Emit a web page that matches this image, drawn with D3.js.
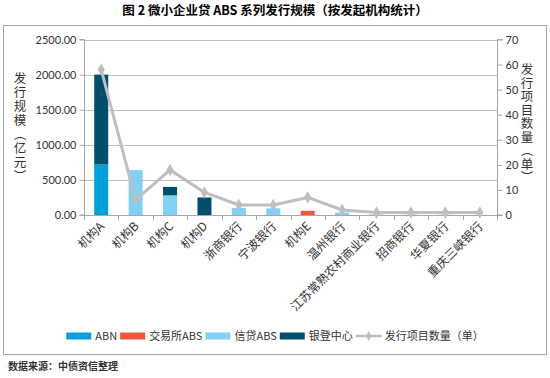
<!DOCTYPE html>
<html><head><meta charset="utf-8">
<script src="https://cdn.jsdelivr.net/npm/d3@7/dist/d3.min.js"></script>
<style>
body{margin:0;background:#fff;}
svg{display:block;}
.vt{writing-mode:vertical-rl;text-orientation:upright;font-feature-settings:"vert" 0,"vrt2" 0;}
</style></head>
<body><svg id="c" width="550" height="378"></svg>
<script>
const categories = ["机构A","机构B","机构C","机构D","浙商银行","宁波银行","机构E","温州银行","江苏常熟农村商业银行","招商银行","华夏银行","重庆三峡银行"];
const abn      = [720, 0, 0, 0, 0, 0, 0, 0, 0, 0, 0, 0];
const exchAbs  = [0, 0, 0, 0, 0, 0, 60, 0, 0, 0, 0, 0];
const creditAbs= [0, 640, 280, 0, 100, 95, 0, 35, 8, 5, 5, 2];
const yindeng  = [1280, 0, 120, 250, 0, 0, 0, 0, 0, 0, 0, 0];
const counts   = [58, 6, 18, 9, 4, 4, 7, 2, 1, 1, 1, 1];
const leftTicks = [0, 500, 1000, 1500, 2000, 2500];
const rightTicks = [0, 10, 20, 30, 40, 50, 60, 70];
const seriesNames = ["ABN","交易所ABS","信贷ABS","银登中心"];
const seriesColors = ["#00a0dc","#f0573a","#7fd1f5","#004f6e"];
const lineName = "发行项目数量（单）";
const lineColor = "#bfbfbf";
const title = "图 2  微小企业贷 ABS 系列发行规模（按发起机构统计）";
const source = "数据来源：中债资信整理";
const leftTitle = "发行规模（亿元）";
const rightTitle = "发行项目数量（单）";

const svg = d3.select("#c");
const cjk = "'Noto Sans CJK SC', sans-serif";
const num = "Lato, 'Open Sans', sans-serif";

const L = 84, R = 497, T = 39.5, B = 215;

// frame
svg.append("rect").attr("x",3.5).attr("y",25.5).attr("width",543).attr("height",329)
  .attr("fill","none").attr("stroke","#a6a6a6").attr("stroke-width",1);

// title
svg.append("text").attr("x",275).attr("y",14.5).attr("text-anchor","middle")
  .attr("font-family",cjk).attr("font-weight","bold").attr("font-size",12.5).attr("fill","#000").text(title);

const xb = d3.scaleBand().domain(categories).range([L,R]);
const y = d3.scaleLinear().domain([0,2500]).range([B,T]);
const y2 = d3.scaleLinear().domain([0,70]).range([B,T]);

// gridlines
svg.append("g").selectAll("line").data(leftTicks.filter(d=>d>0)).join("line")
  .attr("x1",L).attr("x2",R).attr("y1",d=>Math.round(y(d))+0.5).attr("y2",d=>Math.round(y(d))+0.5)
  .attr("stroke","#c0c0c0").attr("stroke-width",1);

// stacked bars
const stackData = categories.map((c,i)=>({cat:c, s0:abn[i], s1:exchAbs[i], s2:creditAbs[i], s3:yindeng[i]}));
const stack = d3.stack().keys(["s0","s1","s2","s3"])(stackData);
const bw = 14;
svg.append("g").selectAll("g").data(stack).join("g").attr("fill",(d,i)=>seriesColors[i])
  .selectAll("rect").data(d=>d).join("rect")
  .attr("x",d=>xb(d.data.cat)+xb.bandwidth()/2-bw/2)
  .attr("width",bw)
  .attr("y",d=>y(d[1]))
  .attr("height",d=>Math.max(0,y(d[0])-y(d[1])));

// left axis
const gl = svg.append("g").attr("transform",`translate(${L+0.5},0)`)
  .call(d3.axisLeft(y).tickValues(leftTicks).tickFormat(d3.format(".2f")).tickSize(5).tickPadding(3));
gl.select(".domain").attr("stroke","#a6a6a6").attr("d",`M-5,${T}H0V${B}H-5`);
gl.selectAll(".tick line").attr("stroke","#a6a6a6");
gl.selectAll("text").attr("font-family",num).attr("font-size",11).attr("fill","#333");

// right axis
const gr = svg.append("g").attr("transform",`translate(${R+0.5},0)`)
  .call(d3.axisRight(y2).tickValues(rightTicks).tickSize(5).tickPadding(3));
gr.select(".domain").attr("stroke","#a6a6a6").attr("d",`M5,${T}H0V${B}H5`);
gr.selectAll(".tick line").attr("stroke","#a6a6a6");
gr.selectAll("text").attr("font-family",num).attr("font-size",11).attr("fill","#333");

// x axis
const gx = svg.append("g");
gx.append("line").attr("x1",L).attr("x2",R+0.5).attr("y1",B+0.5).attr("y2",B+0.5).attr("stroke","#a6a6a6");
const bounds = categories.map(c=>xb(c)).concat([R]);
gx.selectAll("line.t").data(bounds).join("line").attr("class","t")
  .attr("x1",d=>Math.round(d)+0.5).attr("x2",d=>Math.round(d)+0.5).attr("y1",B).attr("y2",B+5)
  .attr("stroke","#a6a6a6");
gx.selectAll("text").data(categories).join("text")
  .attr("transform",d=>`translate(${xb(d)+xb.bandwidth()/2+4},${B+12}) rotate(-45)`)
  .attr("text-anchor","end").attr("font-family",cjk).attr("font-size",12).attr("fill","#333")
  .text(d=>d);

// line series
const pts = categories.map((c,i)=>[xb(c)+xb.bandwidth()/2, y2(counts[i])]);
svg.append("path").attr("d",d3.line()(pts)).attr("fill","none").attr("stroke",lineColor).attr("stroke-width",3).attr("stroke-linejoin","round");
const diamond = d3.symbol().type(d3.symbolDiamond).size(44);
svg.append("g").selectAll("path").data(pts).join("path")
  .attr("transform",d=>`translate(${d[0]},${d[1]})`).attr("d",diamond()).attr("fill",lineColor);

// axis titles (vertical)
function vtitle(str, cx, y0, ls){
  svg.append("text").attr("class","vt").attr("x",cx).attr("y",y0)
    .attr("font-family",cjk).attr("font-size",12.5).attr("fill","#333")
    .style("letter-spacing",ls+"px").text(str);
}
vtitle(leftTitle, 20, 72, 1.5);
vtitle(rightTitle, 527, 63, 1);

// legend
const lg = svg.append("g");
const items = seriesNames.map((n,i)=>({n, c:seriesColors[i], line:false})).concat([{n:lineName,c:lineColor,line:true}]);
let lx = 0;
const ly = 336;
items.forEach(it=>{
  const g = lg.append("g").attr("transform",`translate(${lx},0)`);
  if(it.line){
    g.append("line").attr("x1",0).attr("x2",26).attr("y1",ly).attr("y2",ly).attr("stroke",it.c).attr("stroke-width",2.5);
    g.append("path").attr("transform",`translate(13,${ly})`).attr("d",d3.symbol().type(d3.symbolDiamond).size(28)()).attr("fill",it.c);
  } else {
    g.append("rect").attr("x",0).attr("y",ly-3.5).attr("width",25).attr("height",7).attr("fill",it.c);
  }
  const t = g.append("text").attr("x",29).attr("y",ly+4).attr("font-family",cjk).attr("font-size",11).attr("fill","#333").text(it.n);
  lx += 29 + t.node().getComputedTextLength() + 3;
});
const lw = lx - 3;
lg.attr("transform",`translate(${275 - lw/2},0)`);

// source
svg.append("text").attr("x",8).attr("y",370).attr("font-family",cjk).attr("font-weight","bold").attr("font-size",10).attr("fill","#333").text(source);
</script></body></html>
